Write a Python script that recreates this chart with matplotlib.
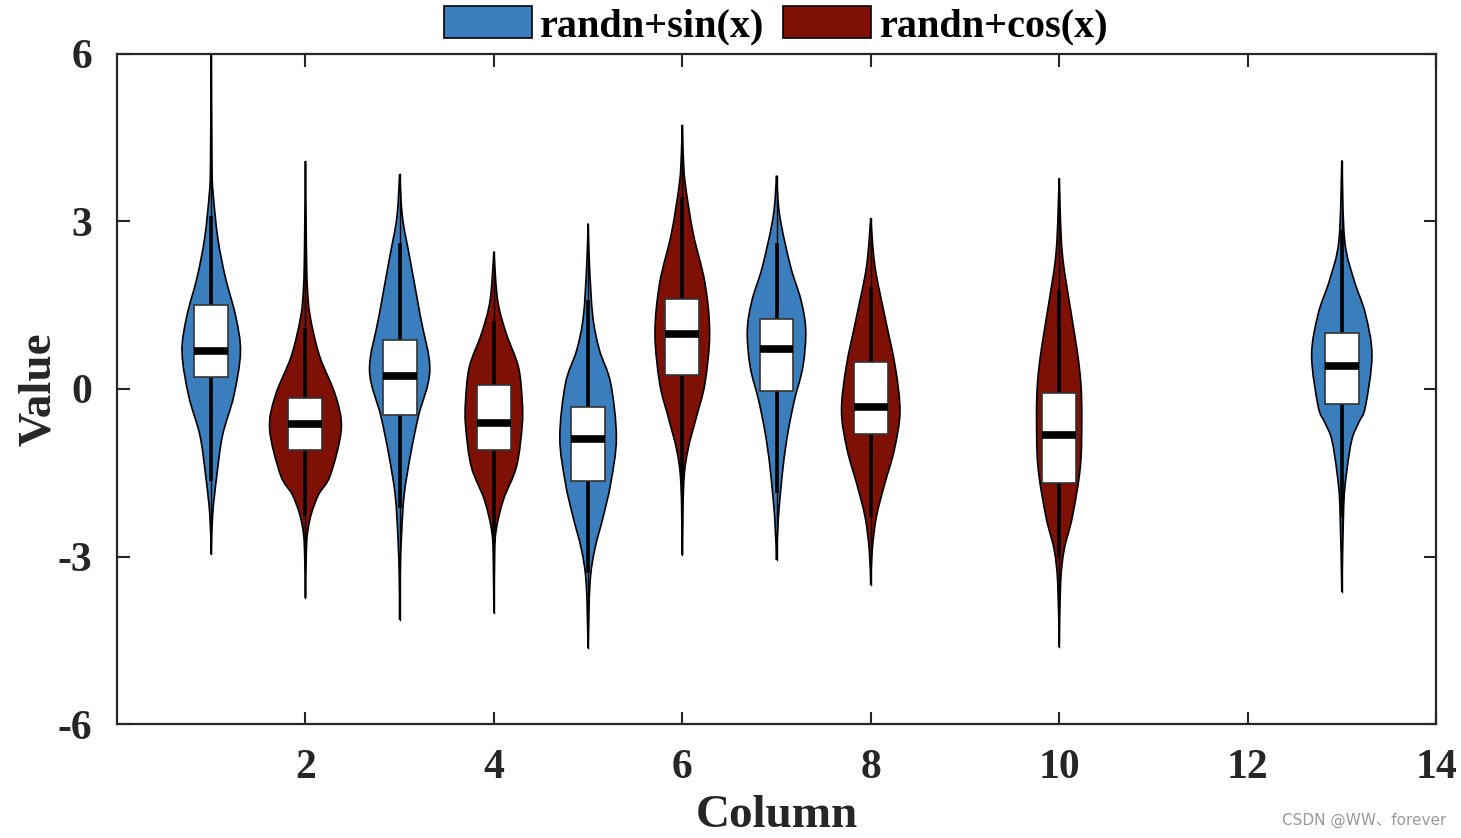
import matplotlib
matplotlib.use("Agg")
import matplotlib.pyplot as plt
from matplotlib.patches import Rectangle, Patch, PathPatch
from matplotlib.path import Path

# ---- data ----
positions = [1, 2, 3, 4, 5, 6, 7, 8, 10, 13]
groups = ["sin", "cos", "sin", "cos", "sin", "cos", "sin", "cos", "cos", "sin"]
series_labels = {"sin": "randn+sin(x)", "cos": "randn+cos(x)"}

# violin outlines: y levels and half widths (x units)
prof_y = [
    [6.0, 4.0, 3.5, 2.7, 2.0, 1.3, 0.66, -0.12, -0.83, -1.54, -2.25, -2.96],
    [4.08, 2.5, 1.83, 1.30, 0.59, -0.12, -0.72, -1.54, -1.89, -2.25, -2.6, -3.0, -3.74],
    [3.85, 3.07, 2.36, 1.3, 0.34, -0.48, -1.18, -1.89, -2.6, -3.3, -4.13],
    [2.46, 1.59, 1.0, 0.4, -0.2, -0.66, -1.39, -1.99, -2.58, -3.2, -4.01],
    [2.96, 2.2, 1.3, 0.7, 0.1, -0.87, -1.69, -2.29, -2.88, -3.48, -4.64],
    [4.73, 4.2, 3.69, 2.79, 1.9, 1.0, 0.1, -0.5, -1.09, -1.69, -2.97],
    [3.82, 3.09, 2.19, 1.59, 1.05, 0.4, -0.2, -0.79, -1.39, -2.29, -3.06],
    [3.06, 2.19, 1.3, 0.4, -0.4, -1.09, -1.69, -2.29, -2.9, -3.51],
    [3.77, 2.49, 1.59, 0.7, 0.1, -0.5, -1.39, -2.29, -2.88, -3.48, -4.62],
    [4.09, 2.67, 1.95, 1.35, 0.6, -0.32, -0.6, -0.91, -1.51, -2.1, -3.63],
]
prof_w = [
    [0, 0.008, 0.02, 0.07, 0.15, 0.26, 0.31, 0.24, 0.12, 0.06, 0.015, 0],
    [0, 0.01, 0.02, 0.05, 0.15, 0.32, 0.38, 0.265, 0.14, 0.06, 0.02, 0.008, 0],
    [0, 0.03, 0.106, 0.22, 0.32, 0.20, 0.115, 0.048, 0.02, 0.005, 0],
    [0, 0.04, 0.13, 0.26, 0.30, 0.30, 0.24, 0.10, 0.02, 0.005, 0],
    [0, 0.015, 0.05, 0.12, 0.24, 0.30, 0.24, 0.16, 0.07, 0.02, 0],
    [0, 0.01, 0.03, 0.115, 0.24, 0.29, 0.24, 0.15, 0.06, 0.015, 0],
    [0, 0.035, 0.15, 0.26, 0.31, 0.28, 0.19, 0.12, 0.07, 0.02, 0],
    [0, 0.045, 0.15, 0.26, 0.31, 0.25, 0.15, 0.06, 0.015, 0],
    [0, 0.03, 0.105, 0.19, 0.23, 0.24, 0.225, 0.14, 0.053, 0.015, 0],
    [0, 0.03, 0.13, 0.25, 0.32, 0.25, 0.18, 0.106, 0.05, 0.02, 0],
]
whisk_lo = [-1.65, -2.28, -2.14, -2.76, -3.30, -1.69, -1.86, -2.29, -3.03, -2.29]
q1 =       [0.22, -1.10, -0.46, -1.09, -1.64, 0.25, -0.03, -0.81, -1.69, -0.26]
median =   [0.68, -0.62, 0.23, -0.60, -0.90, 0.98, 0.72, -0.32, -0.82, 0.42]
q3 =       [1.51, -0.16, 0.87, 0.07, -0.32, 1.62, 1.25, 0.49, -0.07, 1.01]
whisk_hi = [3.10, 1.10, 2.61, 1.22, 1.59, 3.44, 2.61, 1.83, 1.77, 2.85]

xticks = [2, 4, 6, 8, 10, 12, 14]
yticks = [-6, -3, 0, 3, 6]

colors = {"sin": "#3B7EBD", "cos": "#7E1005"}

plt.rcParams["font.family"] = ["Liberation Serif", "DejaVu Serif"]
plt.rcParams["font.weight"] = "bold"
plt.rcParams["axes.unicode_minus"] = False


def smooth_side(ys, ws):
    """Bezier (Catmull-Rom) control points passing through the read points."""
    n = len(ys)
    pts = list(zip(ws, ys))
    verts = [pts[0]]
    codes = []
    for i in range(n - 1):
        p0 = pts[i - 1] if i > 0 else pts[i]
        p1 = pts[i]
        p2 = pts[i + 1]
        p3 = pts[i + 2] if i + 2 < n else pts[i + 1]
        c1 = (max(0.0, p1[0] + (p2[0] - p0[0]) / 6), p1[1] + (p2[1] - p0[1]) / 6)
        c2 = (max(0.0, p2[0] - (p3[0] - p1[0]) / 6), p2[1] - (p3[1] - p1[1]) / 6)
        verts += [c1, c2, p2]
        codes += [Path.CURVE4] * 3
    return verts, codes


fig = plt.figure(figsize=(14.61, 8.38), dpi=100)
ax = fig.add_axes([0.0801, 0.136, 0.9028, 0.7996])

box_hw = 0.18
for i, x in enumerate(positions):
    ys = prof_y[i]
    ws = prof_w[i]
    c = colors[groups[i]]
    half, hcodes = smooth_side(ys, ws)
    right = [(x + w, y) for w, y in half]
    left = [(x - w, y) for w, y in reversed(half)]
    verts = right + left[1:] + [right[0]]
    codes = [Path.MOVETO] + hcodes + hcodes + [Path.CLOSEPOLY]
    ax.add_patch(PathPatch(Path(verts, codes), facecolor=c, edgecolor="black",
                           linewidth=1.2, zorder=2))
    ax.plot([x, x], [min(ys), max(ys)], color="black", lw=1.0, zorder=3)
    ax.plot([x, x], [whisk_lo[i], whisk_hi[i]], color="black", lw=2.6,
            solid_capstyle="butt", zorder=3)
    ax.add_patch(Rectangle((x - box_hw, q1[i]), 2 * box_hw, q3[i] - q1[i],
                           facecolor="white", edgecolor="#333333", lw=1.2, zorder=4))
    ax.plot([x - box_hw, x + box_hw], [median[i], median[i]], color="black",
            lw=5.5, solid_capstyle="butt", zorder=5)

ax.set_xlim(0, 14)
ax.set_ylim(-6, 6)
ax.set_xticks(xticks)
ax.set_yticks(yticks)
ax.tick_params(direction="in", length=9, width=1.5, top=True, right=True,
               labelsize=30, colors="#262626")
ax.tick_params(axis="x", pad=18)
ax.tick_params(axis="y", pad=18)
for lab in ax.get_xticklabels() + ax.get_yticklabels():
    lab.set_fontweight("bold")
    lab.set_color("#262626")
for s in ax.spines.values():
    s.set_linewidth(1.6)
    s.set_color("#262626")

ax.set_xlabel("Column", fontsize=34, fontweight="bold", color="#262626", labelpad=6)
ax.set_ylabel("Value", fontsize=34, fontweight="bold", color="#262626", labelpad=-2)

handles = [Patch(facecolor=colors["sin"], edgecolor="black", lw=1.2, label=series_labels["sin"]),
           Patch(facecolor=colors["cos"], edgecolor="black", lw=1.2, label=series_labels["cos"])]
leg = fig.legend(handles=handles, loc="upper center", bbox_to_anchor=(0.531, 1.036), ncol=2,
                 frameon=False, prop={"family": "Liberation Serif", "weight": "bold", "size": 29},
                 handlelength=2.2, handleheight=0.85, handletextpad=0.2, columnspacing=0.45)

fig.text(0.99, 0.012, "CSDN @WW、forever", ha="right", va="bottom", fontsize=11,
         color="#999999", family=["DejaVu Sans", "Noto Sans CJK SC"], fontweight="normal")

fig.savefig("out.png", dpi=100)
